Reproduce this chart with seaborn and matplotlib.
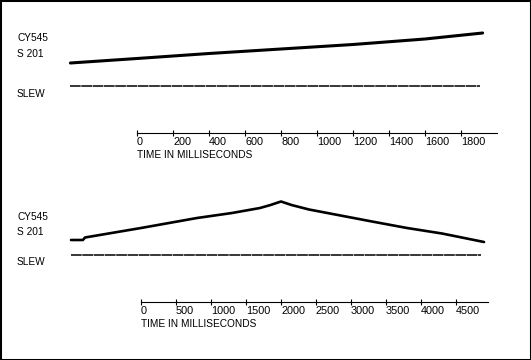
import matplotlib
matplotlib.use("Agg")
import matplotlib.pyplot as plt
from matplotlib.patches import Rectangle
from matplotlib.transforms import blended_transform_factory
import seaborn as sns

# sweep 1: ~2 s window (time in ms, trace height in screen units above the time axis)
top_time = [-370, 0, 400, 800, 1200, 1600, 1920]
top_signal = [70, 74.5, 79.5, 84, 88.5, 94, 100]
top_slew_time = [-370, 1905]
top_slew = [47, 47]
top_ticks = [0, 200, 400, 600, 800, 1000, 1200, 1400, 1600, 1800]

# sweep 2: ~5 s window
bot_time = [-1000, -830, -800, 0, 800, 1300, 1700, 1850, 2000, 2150, 2400, 2850, 3300, 3800, 4300, 4900]
bot_signal = [62, 62, 64.5, 74, 84, 89, 94, 97, 100.5, 97, 92.5, 86.5, 80.5, 74, 68.5, 60]
bot_slew_time = [-1000, 4860]
bot_slew = [47, 47]
bot_ticks = [0, 500, 1000, 1500, 2000, 2500, 3000, 3500, 4000, 4500]

labels = ["CY545", "S 201", "SLEW"]
label_pos_top = [95, 79, 39]
label_pos_bot = [85, 70, 40]

sns.set_style("white")
plt.rcParams['font.family'] = ['Liberation Sans', 'DejaVu Sans']
FS = 7.3
TICK_FS = 7.8

W, H = 531, 360
fig = plt.figure(figsize=(W / 100, H / 100), dpi=100)


def panel(axis_y, ms_per_px, zero_px, t, sig, sl_t, sl, ticks, axis_end, lab_y, sig_lw):
    ax = fig.add_axes([0, (H - axis_y) / H, 1, 118 / H])
    ax.set_xlim(-zero_px * ms_per_px, (W - zero_px) * ms_per_px)
    ax.set_ylim(0, 118)
    sns.lineplot(x=t, y=sig, ax=ax, color="black", lw=sig_lw)
    sns.lineplot(x=sl_t, y=sl, ax=ax, color="black", lw=1.1, linestyle=(0, (7, 0.4)))
    for s in ["top", "left", "right"]:
        ax.spines[s].set_visible(False)
    ax.spines["bottom"].set_bounds(0, axis_end)
    ax.spines["bottom"].set_linewidth(0.8)
    ax.spines["bottom"].set_color("black")
    ax.set_xticks(ticks, labels=[str(v) for v in ticks], ha="left", fontsize=TICK_FS)
    ax.tick_params(axis="x", bottom=True, direction="inout", length=4.5, width=0.8,
                   pad=0.5, color="black", labelcolor="black")
    ax.set_yticks([])
    ax.set_xlabel("")
    ax.set_ylabel("")
    ax.annotate("TIME IN MILLISECONDS", xy=(0, 0), xycoords=ax.get_xaxis_transform(),
                xytext=(0, -17), textcoords="offset pixels", ha="left", va="top",
                fontsize=FS, color="black")
    tr = blended_transform_factory(ax.transAxes, ax.transData)
    for name, yv in zip(labels, lab_y):
        ax.text(17 / W, yv, name, transform=tr, ha="left", va="center",
                fontsize=FS, color="black")
    return ax


panel(133, 1 / 0.18, 137, top_time, top_signal, top_slew_time, top_slew,
      top_ticks, 2000, label_pos_top, 2.2)
panel(302, 1 / 0.07, 141, bot_time, bot_signal, bot_slew_time, bot_slew,
      bot_ticks, 4950, label_pos_bot, 1.9)

fig.patches.append(Rectangle((0, 0), 1, 1, transform=fig.transFigure, fill=False,
                             edgecolor="black", lw=2.2))

fig.savefig("out.png", dpi=100)
